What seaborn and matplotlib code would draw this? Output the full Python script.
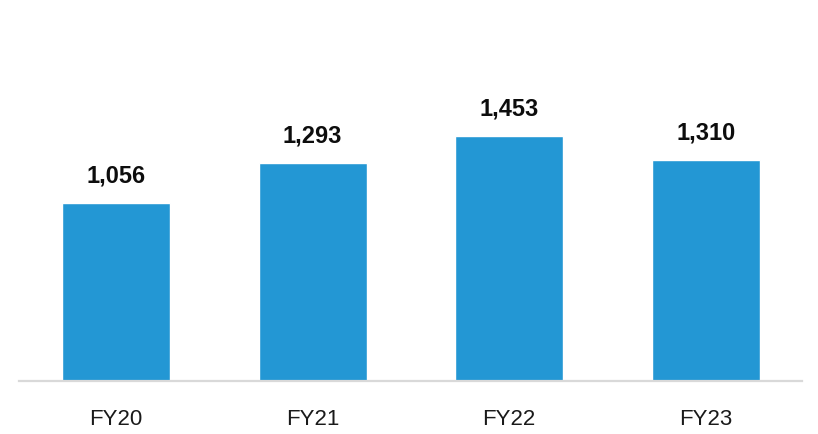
import matplotlib
matplotlib.use("Agg")
import matplotlib.pyplot as plt
import seaborn as sns
import pandas as pd

categories = ["FY20", "FY21", "FY22", "FY23"]
values = [1056, 1293, 1453, 1310]
value_labels = ["1,056", "1,293", "1,453", "1,310"]

sns.set_theme(style="white")
plt.rcParams["font.family"] = ["Liberation Sans", "DejaVu Sans"]

df = pd.DataFrame({"year": categories, "value": values})

fig = plt.figure(figsize=(8.18, 4.34), dpi=100)
ax = fig.add_axes([19 / 818, 53 / 434, 783 / 818, 381 / 434])

sns.barplot(data=df, x="year", y="value", color="#2397D4", saturation=1,
            width=0.55, ax=ax)

for p, lab in zip(ax.patches, value_labels):
    ax.annotate(lab, (p.get_x() + p.get_width() / 2, p.get_height()),
                xytext=(0, 11), textcoords="offset points",
                ha="center", va="bottom", fontsize=17, fontweight="bold",
                color="#0D0D0D")

ax.set_xlim(-0.494, 3.49)
ax.set_ylim(0, 2257)
ax.set_xlabel("")
ax.set_ylabel("")
ax.set_yticks([])
for s in ["top", "right", "left"]:
    ax.spines[s].set_visible(False)
ax.spines["bottom"].set_color("#D9D9D9")
ax.spines["bottom"].set_linewidth(1.6)
ax.tick_params(axis="x", length=0, pad=20, labelsize=16, labelcolor="#1A1A1A")
ax.set_facecolor("none")

fig.savefig("out.png", dpi=100, facecolor="white")
